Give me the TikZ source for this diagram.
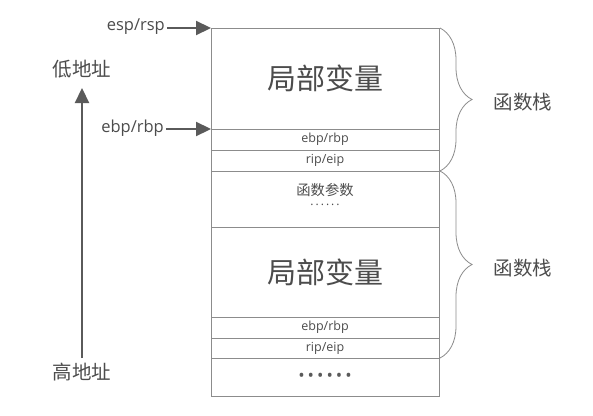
\documentclass[tikz,border=0pt]{standalone}
\usepackage{fontspec}
\setmainfont{Open Sans}
\newfontfamily\cjk{Noto Sans CJK SC}
\usetikzlibrary{arrows.meta,decorations.pathreplacing,calc}
\definecolor{linegray}{HTML}{8C8C8C}
\definecolor{textgray}{HTML}{4C4C4C}
\definecolor{arrowgray}{HTML}{5A5A5A}
\begin{document}
\begin{tikzpicture}[x=1pt,y=-1pt,
  row/.style={draw=linegray, line width=0.8pt, minimum width=228pt, anchor=north west,
              inner sep=0pt, outer sep=0pt, text=textgray},
  bigcjk/.style={font=\cjk\fontsize{29}{29}\selectfont},
  smalllat/.style={font=\fontsize{12.5}{12.5}\selectfont},
  midcjk/.style={font=\cjk\fontsize{14.3}{14.3}\selectfont, text=textgray, inner sep=0pt},
  sidecjk/.style={font=\cjk\fontsize{19.5}{19.5}\selectfont, text=textgray, inner sep=1pt},
  ptrlabel/.style={font=\fontsize{16.5}{16.5}\selectfont, text=textgray, inner sep=2pt, anchor=east},
  ptr/.style={-{Triangle[length=15pt,width=14pt]}, line width=2.2pt, draw=arrowgray},
  bracestyle/.style={draw=linegray, line width=0.8pt,
                     decorate, decoration={brace, amplitude=32pt}}
]
\fill[white] (0,0) rectangle (593,415);
\useasboundingbox (0,0) rectangle (593,415);

% stack rows
\node[row, minimum height=101pt, bigcjk] (r1) at (211,28) {局部变量};
\node[row, minimum height=21pt, smalllat] (r2) at (211,129) {ebp/rbp};
\node[row, minimum height=21pt, smalllat] (r3) at (211,150) {rip/eip};
\node[row, minimum height=56pt] (r4) at (211,171) {};
\node[row, minimum height=90pt, bigcjk] (r5) at (211,227) {局部变量};
\node[row, minimum height=21pt, smalllat] (r6) at (211,317) {ebp/rbp};
\node[row, minimum height=20pt, smalllat] (r7) at (211,338) {rip/eip};
\node[row, minimum height=38pt, font=\fontsize{17}{17}\selectfont, text=arrowgray] (r8) at (211,358)
  {•\hspace{3pt}•\hspace{3pt}•\hspace{3pt}•\hspace{3pt}•\hspace{3pt}•};

\node[midcjk] (params) at (325,190) {函数参数};
\node[font=\fontsize{12}{12}\selectfont, text=textgray, inner sep=0pt] (pdots) at (325,205)
  {.\hspace{2pt}.\hspace{2pt}.\hspace{2pt}.\hspace{2pt}.\hspace{2pt}.};

% pointers
\node[ptrlabel] (esp) at (167,27) {esp/rsp};
\node[ptrlabel] (ebp) at (166,128) {ebp/rbp};
\draw[ptr] (esp.east |- r1.north west) -- (r1.north west);
\draw[ptr] (ebp.east |- r2.north west) -- (r2.north west);

% address direction
\node[sidecjk] (low) at (82,69) {低地址};
\node[sidecjk] (high) at (82,372) {高地址};
\coordinate (arrbot) at (82,358);
\coordinate (arrtop) at (82,88);
\draw[ptr] (arrbot) -- (arrtop);

% braces
\draw[bracestyle] ($(r1.north east)+(1,0)$) -- ($(r3.south east)+(1,0)$);
\draw[bracestyle] ($(r4.north east)+(1,0)$) -- ($(r7.south east)+(1,0)$);
\node[sidecjk] (fs1) at (523,102) {函数栈};
\node[sidecjk] (fs2) at (523,268) {函数栈};
\end{tikzpicture}
\end{document}
